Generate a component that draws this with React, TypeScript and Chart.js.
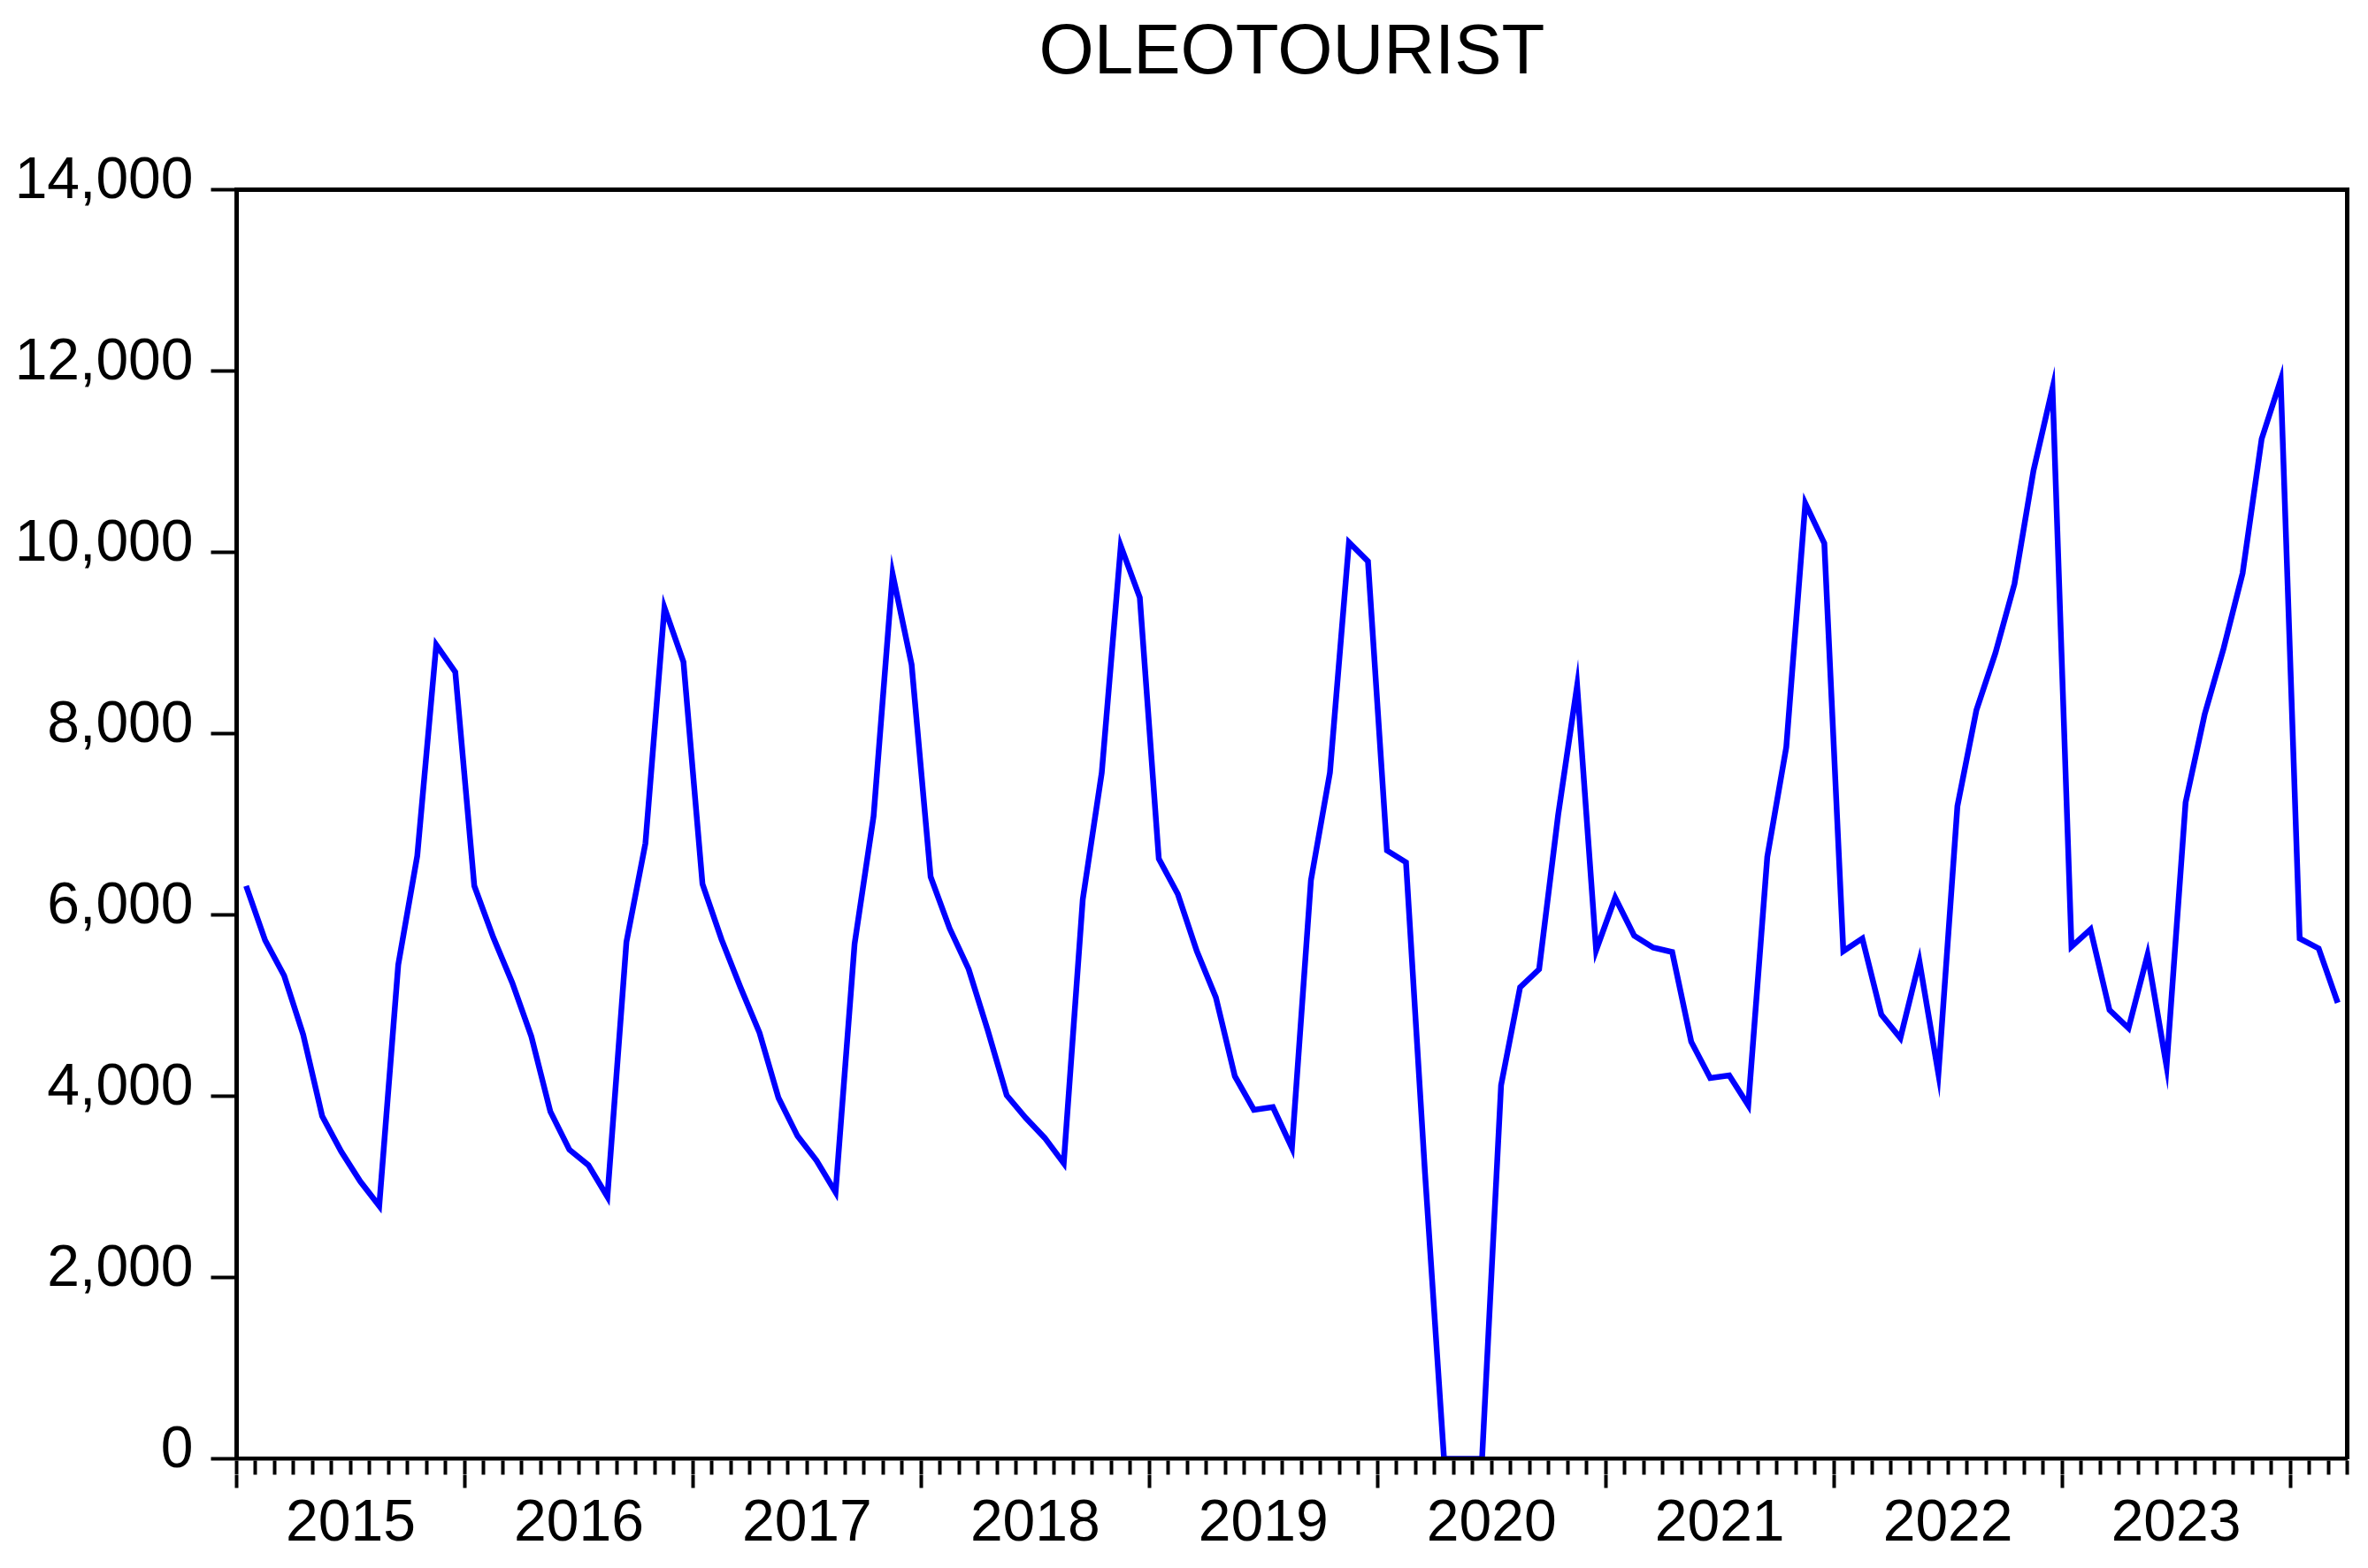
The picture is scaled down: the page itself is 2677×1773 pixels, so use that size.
import React, { useEffect, useRef } from 'react';
import { Chart, registerables } from 'chart.js';

Chart.register(...registerables);

const FONT = "'Liberation Sans', Arial, Helvetica, sans-serif";

// Tick labels
const yearLabels = ['2015', '2016', '2017', '2018', '2019', '2020', '2021', '2022', '2023'];
const yTickValues = [0, 2000, 4000, 6000, 8000, 10000, 12000, 14000];

// Monthly series values (Jan 2015 - Mar 2024)
const v2015 = [6320, 5720, 5330, 4680, 3780, 3390, 3060, 2790, 5450, 6650, 8980, 8680];
const v2016 = [6320, 5750, 5250, 4660, 3830, 3410, 3240, 2890, 5700, 6790, 9390, 8790];
const v2017 = [6340, 5730, 5200, 4700, 3980, 3560, 3290, 2940, 5680, 7090, 9760, 8760];
const v2018 = [6420, 5850, 5400, 4730, 4010, 3760, 3540, 3260, 6170, 7570, 10070, 9500];
const v2019 = [6620, 6230, 5600, 5090, 4220, 3850, 3880, 3430, 6380, 7570, 10110, 9900];
const v2020 = [6710, 6580, 3150, 0, 0, 0, 4120, 5200, 5400, 7100, 8530, 5610];
const v2021 = [6190, 5770, 5640, 5590, 4600, 4200, 4230, 3900, 6640, 7850, 10540, 10100];
const v2022 = [5600, 5740, 4900, 4640, 5490, 4245, 7200, 8260, 8890, 9650, 10900, 11810];
const v2023 = [5650, 5840, 4950, 4750, 5560, 4330, 7240, 8210, 8940, 9770, 11250, 11900];
const v2024 = [5740, 5630, 5030];

const values = [...v2015, ...v2016, ...v2017, ...v2018, ...v2019, ...v2020, ...v2021, ...v2022, ...v2023, ...v2024];
const months = values.map((_, i) => `${2015 + Math.floor(i / 12)}M${String((i % 12) + 1).padStart(2, '0')}`);

export default function App() {
  const ref = useRef<HTMLCanvasElement>(null);

  useEffect(() => {
    document.body.style.margin = '0';
    document.body.style.overflow = 'hidden';
    const H = 1773;
    const areaTop = 214.5;
    const areaBottom = 1649.5;
    const titleH = 108.5;
    const minorLen = 18;
    const majorLen = 15;
    const n = months.length;

    const chart = new Chart(ref.current as HTMLCanvasElement, {
      type: 'line',
      data: {
        datasets: [
          {
            label: 'OLEOTOURIST',
            data: values.map((v, i) => ({ x: i + 0.5, y: v })),
            borderColor: '#0000ff',
            backgroundColor: '#0000ff',
            borderWidth: 6.5,
            pointRadius: 0,
            tension: 0,
            fill: false,
            xAxisID: 'x',
            yAxisID: 'y',
          },
        ],
      },
      options: {
        responsive: false,
        animation: false,
        devicePixelRatio: 1,
        layout: { padding: 0 },
        plugins: {
          legend: { display: false },
          tooltip: { enabled: false },
          title: {
            display: true,
            text: 'OLEOTOURIST',
            fullSize: false,
            color: '#000',
            font: { family: FONT, size: 80, weight: 'normal', lineHeight: 1.2 },
            padding: { top: 12.5, bottom: 0 },
          },
        },
        scales: {
          x: {
            type: 'linear',
            position: 'bottom',
            min: 0,
            max: n,
            weight: 0,
            afterBuildTicks: (s: any) => {
              const t = [];
              for (let i = 0; i <= n; i++) t.push({ value: i });
              s.ticks = t;
            },
            afterFit: (s: any) => { s.height = minorLen; },
            ticks: { display: false },
            grid: { drawOnChartArea: false, drawTicks: true, tickLength: minorLen, tickWidth: 4, tickColor: '#000' },
            border: { display: true, width: 4.5, color: '#000', z: 1 },
          },
          xMajor: {
            type: 'linear',
            position: 'bottom',
            min: 0,
            max: n,
            weight: 1,
            afterBuildTicks: (s: any) => {
              const t = [];
              for (let i = 0; i <= n; i += 12) t.push({ value: i });
              s.ticks = t;
            },
            afterFit: (s: any) => { s.height = majorLen; },
            ticks: { display: false },
            grid: { drawOnChartArea: false, drawTicks: true, tickLength: majorLen, tickWidth: 4, tickColor: '#000' },
            border: { display: false },
          },
          xYears: {
            type: 'linear',
            position: 'bottom',
            min: 0,
            max: n,
            weight: 2,
            afterBuildTicks: (s: any) => {
              s.ticks = yearLabels.map((_, i) => ({ value: 6 + 12 * i }));
            },
            afterFit: (s: any) => { s.height = H - areaBottom - minorLen - majorLen; },
            ticks: {
              display: true,
              autoSkip: false,
              maxRotation: 0,
              minRotation: 0,
              padding: 8,
              color: '#000',
              font: { family: FONT, size: 66, lineHeight: 1 },
              callback: (_v: any, i: number) => yearLabels[i],
            },
            grid: { display: false, drawTicks: false, drawOnChartArea: false },
            border: { display: false },
          },
          xTop: {
            type: 'linear',
            position: 'top',
            min: 0,
            max: 1,
            afterFit: (s: any) => { s.height = areaTop - titleH; },
            ticks: { display: false },
            grid: { drawOnChartArea: false, drawTicks: false },
            border: { display: true, width: 5, color: '#000' },
          },
          y: {
            type: 'linear',
            position: 'left',
            min: 0,
            max: 14000,
            afterBuildTicks: (s: any) => {
              s.ticks = yTickValues.map((v) => ({ value: v }));
            },
            afterFit: (s: any) => { s.width = 267.5; },
            ticks: {
              color: '#000',
              padding: 20,
              labelOffset: -9,
              font: { family: FONT, size: 66 },
              callback: (v: any) => Number(v).toLocaleString('en-US'),
            },
            grid: { drawOnChartArea: false, drawTicks: true, tickLength: 29, tickWidth: 4, tickColor: '#000' },
            border: { display: true, width: 5, color: '#000' },
          },
          yRight: {
            type: 'linear',
            position: 'right',
            min: 0,
            max: 1,
            afterFit: (s: any) => { s.width = 23.5; },
            ticks: { display: false },
            grid: { drawOnChartArea: false, drawTicks: false },
            border: { display: true, width: 5, color: '#000' },
          },
        },
      } as any,
    });
    return () => chart.destroy();
  }, []);

  return (
    <canvas
      ref={ref}
      width={2677}
      height={1773}
      style={{ display: 'block', width: 2677, height: 1773 }}
    />
  );
}
